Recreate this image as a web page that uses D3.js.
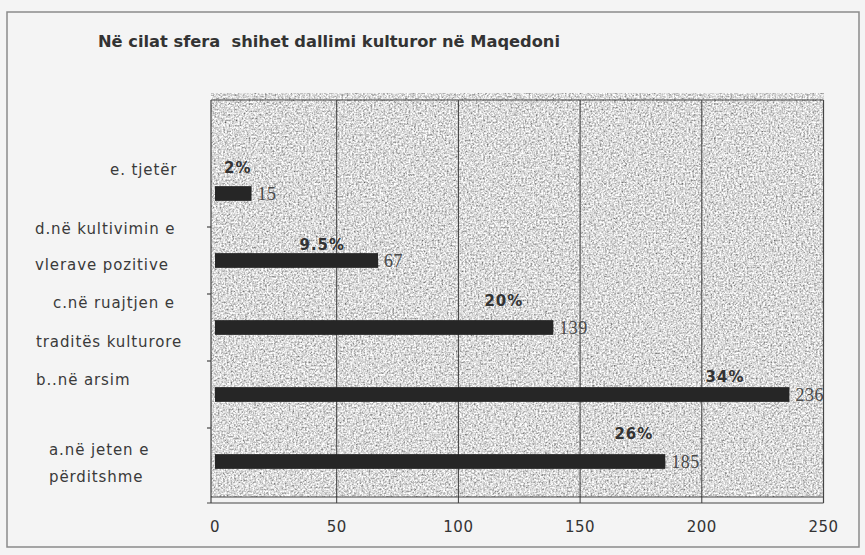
<!DOCTYPE html>
<html>
<head>
<meta charset="utf-8">
<script src="https://cdn.jsdelivr.net/npm/d3@7"></script>
<style>
  html, body { margin: 0; padding: 0; background: #f4f4f4; }
  svg { display: block; }
</style>
</head>
<body>
<script>
// ---- data ----
const title = "Në cilat sfera  shihet dallimi kulturor në Maqedoni";
const categories = ["e", "d", "c", "b", "a"];               // top to bottom
const categoryLabels = [
  ["e. tjetër"],
  ["d.në kultivimin e", "vlerave pozitive"],
  ["c.në ruajtjen e", "traditës kulturore"],
  ["b..në arsim"],
  ["a.në jeten e", "përditshme"]
];
const values = [15, 67, 139, 236, 185];
const percents = ["2%", "9.5%", "20%", "34%", "26%"];
const xTicks = [0, 50, 100, 150, 200, 250];

// ---- layout (not data) ----
const W = 865, H = 555;
const labelLayout = [
  [{x: 110, dy: -18.5}],
  [{x: 35, dy: -26.5}, {x: 35, dy: 9.5}],
  [{x: 53, dy: -19.5}, {x: 36, dy: 19.5}],
  [{x: 36, dy: -9.5}],
  [{x: 49, dy: -6.5}, {x: 49, dy: 20.5}]
];
const pctLayout = [
  {dx: 0, dy: -13}, {dx: -33, dy: -3}, {dx: -30, dy: -14}, {dx: -45, dy: -5}, {dx: -12, dy: -15}
];

const svg = d3.select("body").append("svg").attr("width", W).attr("height", H);

// noise filter for plot background
const defs = svg.append("defs");
const f = defs.append("filter").attr("id", "noise")
  .attr("x", 0).attr("y", 0).attr("width", 1).attr("height", 1)
  .attr("filterUnits", "objectBoundingBox");
f.append("feTurbulence").attr("type", "fractalNoise").attr("baseFrequency", 0.55)
  .attr("numOctaves", 2).attr("seed", 4).attr("result", "t");
f.append("feColorMatrix").attr("in", "t").attr("type", "matrix")
  .attr("values", "1.5 0 0 0 -0.05  1.5 0 0 0 -0.05  1.5 0 0 0 -0.05  0 0 0 0 1");

// outer frame
svg.append("rect").attr("x", 7).attr("y", 12).attr("width", 852).attr("height", 535)
  .attr("fill", "none").attr("stroke", "#8a8a8a").attr("stroke-width", 1.5);

// title
svg.append("text").attr("x", 98).attr("y", 47)
  .attr("font-family", "DejaVu Sans, Verdana, sans-serif").attr("font-weight", "bold")
  .attr("font-size", 15).attr("fill", "#333")
  .attr("textLength", 462).attr("lengthAdjust", "spacingAndGlyphs")
  .style("white-space", "pre")
  .text(title);

// scales
const x = d3.scaleLinear().domain([0, 250]).range([215, 823.5]);
const yDomain = [""].concat(categories);
const y = d3.scaleBand().domain(yDomain).range([93, 495]).paddingInner(0).paddingOuter(0);
const step = y.step();
const barH = step * 0.22;
const plotLeft = 211, plotRight = x(250), plotTop = 93, plotBottom = 497, floorY = 503;

// plot background
svg.append("rect").attr("x", plotLeft).attr("y", plotTop)
  .attr("width", plotRight - plotLeft).attr("height", plotBottom - plotTop)
  .attr("fill", "#b0b0b0").attr("filter", "url(#noise)");
// floor strip
svg.append("rect").attr("x", plotLeft).attr("y", plotBottom)
  .attr("width", plotRight - plotLeft).attr("height", floorY - plotBottom)
  .attr("fill", "#f2f2f2");

// gridlines
svg.append("g").selectAll("line").data(xTicks.filter(d => d > 0 && d < 250)).join("line")
  .attr("x1", d => x(d)).attr("x2", d => x(d))
  .attr("y1", 100).attr("y2", floorY)
  .attr("stroke", "#3a3a3a").attr("stroke-width", 1);

// frame lines
const frame = svg.append("g").attr("stroke", "#444").attr("stroke-width", 1.2).attr("fill", "none");
frame.append("line").attr("x1", plotLeft).attr("x2", plotRight).attr("y1", 100).attr("y2", 100);
frame.append("line").attr("x1", plotLeft).attr("x2", plotLeft).attr("y1", 100).attr("y2", floorY);
frame.append("line").attr("x1", plotRight).attr("x2", plotRight).attr("y1", 100).attr("y2", floorY);
frame.append("line").attr("x1", plotLeft).attr("x2", plotRight).attr("y1", plotBottom).attr("y2", plotBottom);
frame.append("line").attr("x1", plotLeft - 4).attr("x2", plotRight).attr("y1", floorY).attr("y2", floorY);

// category ticks (between categories)
svg.append("g").selectAll("line").data(categories.slice(0, -1)).join("line")
  .attr("x1", plotLeft - 4).attr("x2", plotLeft)
  .attr("y1", d => y(d) + step).attr("y2", d => y(d) + step)
  .attr("stroke", "#444").attr("stroke-width", 1.2);

// bars
svg.append("g").selectAll("rect").data(categories).join("rect")
  .attr("x", x(0))
  .attr("y", d => y(d) + (step - barH) / 2)
  .attr("width", (d, i) => x(values[i]) - x(0))
  .attr("height", barH)
  .attr("fill", "#262626");

// value labels
svg.append("g").selectAll("text").data(categories).join("text")
  .attr("x", (d, i) => x(values[i]) + 6)
  .attr("y", d => y(d) + step / 2 + 6)
  .attr("font-family", "Liberation Serif, Times New Roman, serif")
  .attr("font-size", 18).attr("letter-spacing", 0.5).attr("fill", "#4a4a4a")
  .text((d, i) => values[i]);

// percent labels
svg.append("g").selectAll("text").data(categories).join("text")
  .attr("x", (d, i) => x(values[i]) + pctLayout[i].dx)
  .attr("y", (d, i) => y(d) + (step - barH) / 2 + pctLayout[i].dy)
  .attr("text-anchor", "end")
  .attr("font-family", "DejaVu Sans, Verdana, sans-serif").attr("font-weight", "bold")
  .attr("font-size", 15).attr("letter-spacing", 1).attr("fill", "#333")
  .text((d, i) => percents[i]);

// category labels
const lab = svg.append("g")
  .attr("font-family", "DejaVu Sans, Verdana, sans-serif")
  .attr("font-size", 15).attr("letter-spacing", 0.9).attr("fill", "#3a3a3a");
categories.forEach((c, i) => {
  categoryLabels[i].forEach((line, j) => {
    const L = labelLayout[i][j];
    lab.append("text").attr("x", L.x).attr("y", y(c) + step / 2 + L.dy).text(line);
  });
});

// x tick labels
svg.append("g").selectAll("text").data(xTicks).join("text")
  .attr("x", d => x(d)).attr("y", 532)
  .attr("text-anchor", "middle")
  .attr("font-family", "DejaVu Sans, Verdana, sans-serif")
  .attr("font-size", 15).attr("letter-spacing", 0.5).attr("fill", "#333")
  .text(d => d);
</script>
</body>
</html>
